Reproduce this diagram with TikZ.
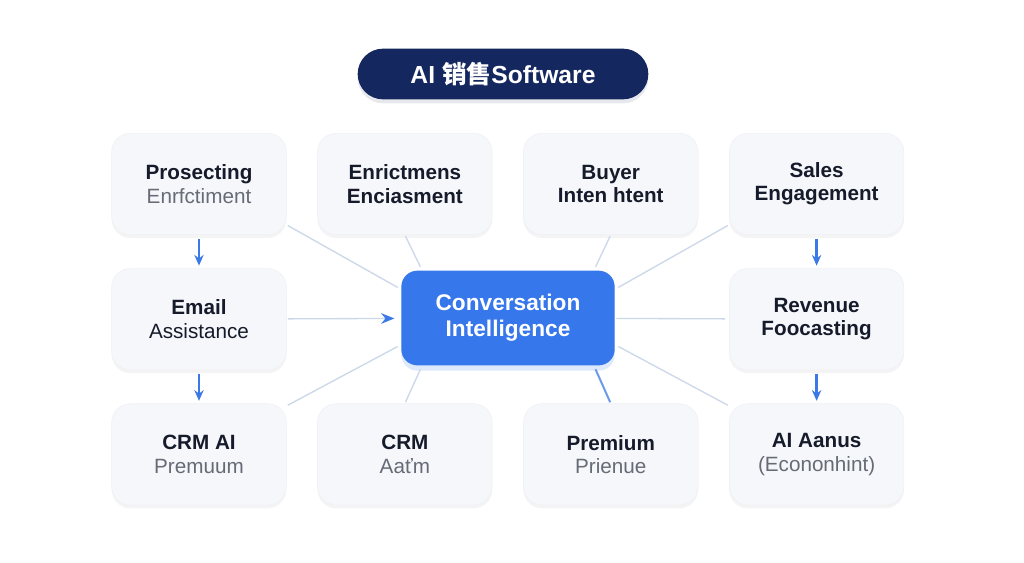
\documentclass[tikz,border=0pt]{standalone}
\usepackage{fontspec}
\setmainfont{Liberation Sans}
\newfontfamily\cjk{Noto Sans CJK SC}
\usepackage{xcolor}
\usetikzlibrary{arrows.meta,positioning,shadows}

\definecolor{navy}{HTML}{14275E}
\definecolor{convblue}{HTML}{3677EC}
\definecolor{flowblue}{HTML}{3B7AE6}
\definecolor{spokegray}{HTML}{CCD8EA}
\definecolor{cardfill}{HTML}{F5F7FA}
\definecolor{cardline}{HTML}{EEF1F5}
\definecolor{ink}{HTML}{161B2B}
\definecolor{subgray}{HTML}{666B76}

\begin{document}
\begin{tikzpicture}[x=0.75pt, y=-0.75pt, >=Stealth, node distance=25pt and 23pt,
  card/.style={draw=cardline, fill=cardfill, rounded corners=14pt, minimum width=131pt,
    minimum height=76pt, align=center, text=ink, font=\fontsize{15.5}{17.5}\selectfont,
    drop shadow={shadow xshift=0pt, shadow yshift=-2.5pt, opacity=0.045, fill=black}},
  flow/.style={->, flowblue, line width=2pt, shorten <=3pt, shorten >=2pt,
    >={Stealth[length=8pt, width=7pt]}},
  spoke/.style={spokegray, line width=1pt, shorten <=1pt, shorten >=3pt}]
\useasboundingbox[fill=white] (0,0) rectangle (1024,563);

% title
\node[fill=navy, rounded corners=19pt, minimum width=218pt, minimum height=38pt,
  text=white, font=\fontsize{18.5}{20}\selectfont\bfseries,
  drop shadow={shadow xshift=0pt, shadow yshift=-3pt, opacity=0.10, fill=navy}]
  (title) at (503,74) {AI {\cjk\bfseries 销售}Software};

% hub
\node[fill=convblue, rounded corners=12pt, minimum width=160pt, minimum height=71pt,
  align=center, text=white, font=\fontsize{17}{19.5}\selectfont\bfseries,
  drop shadow={shadow xshift=0pt, shadow yshift=-4pt, opacity=0.16, fill=convblue}]
  (conv) at (508,318) {Conversation\\Intelligence};

% top row
\node[card] (p1) at (199,184) {\textbf{Prosecting}\\{\color{subgray}Enrfctiment}};
\node[card, right=of p1] (p2) {\textbf{Enrictmens}\\\textbf{Enciasment}};
\node[card, right=of p2] (p3) {\textbf{Buyer}\\\textbf{Inten htent}};
\node[card, right=of p3] (p4) {\textbf{Sales}\\\textbf{Engagement}};

% middle row
\node[card, below=of p1] (em) {\textbf{Email}\\Assistance};
\node[card, below=of p4] (rv) {\textbf{Revenue}\\\textbf{Foocasting}};

% bottom row
\node[card, below=of em] (c1) {\textbf{CRM AI}\\{\color{subgray}Premuum}};
\node[card, right=of c1] (c2) {\textbf{CRM}\\{\color{subgray}Aaťm}};
\node[card, right=of c2] (c3) {\textbf{Premium}\\{\color{subgray}Prienue}};
\node[card, right=of c3] (c4) {\textbf{AI Aanus}\\{\color{subgray}(Econonhint)}};

% columns
\draw[flow] (p1) -- (em);
\draw[flow] (em) -- (c1);
\draw[flow] (p4) -- (rv);
\draw[flow] (rv) -- (c4);

% spokes round the hub
\draw[spoke] (p1.-25) -- (conv.165);
\draw[spoke] (p2.south) -- (conv.151);
\draw[spoke] (p3.south) -- (conv.29);
\draw[spoke] (p4.205) -- (conv.15);
\draw[spoke, -{Stealth[flowblue, length=10pt, width=8pt]}, shorten >=5pt] (em) -- (conv);
\draw[spoke] (conv) -- (rv);
\draw[spoke] (c1.29) -- (conv.194);
\draw[spoke] (c2.north) -- (conv.209);
\draw[spoke, flowblue!75, line width=1.5pt] (c3.north) -- (conv.331);
\draw[spoke] (c4.151) -- (conv.346);
\end{tikzpicture}
\end{document}
